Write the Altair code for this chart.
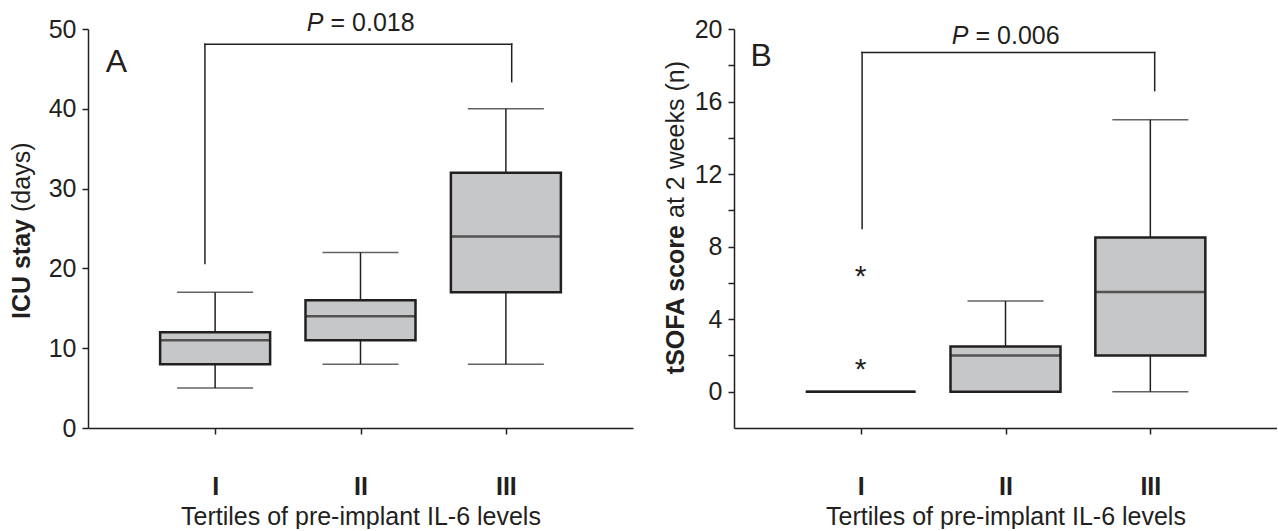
import altair as alt
import pandas as pd

FONT = "Liberation Sans"
INK = "#231f20"
BOX_FILL = "#c6c7c9"

# Tertiles of pre-implant IL-6 and their positions on the x axis
tertiles = ["I", "II", "III"]
tertile_pos = [1, 2, 3]

# ICU stay (days): whisker ends, quartiles, median
icu_low = [5, 8, 8]
icu_q1 = [8, 11, 17]
icu_median = [11, 14, 24]
icu_q3 = [12, 16, 32]
icu_high = [17, 22, 40]

# tSOFA score at 2 weeks
sofa_low = [0, 0, 0]
sofa_q1 = [0, 0, 2]
sofa_median = [0, 2, 5.5]
sofa_q3 = [0, 2.5, 8.5]
sofa_high = [0, 5, 15]

# extreme values in tertile I (tSOFA)
sofa_extreme_pos = [1, 1]
sofa_extreme_value = [1.5, 6.6]

# I vs III comparison brackets: [left x, right x], [left foot, right foot, top]
icu_bracket_x = [0.93, 3.04]
icu_bracket_y = [20.6, 43.4, 48.1]
sofa_bracket_x = [1.01, 3.03]
sofa_bracket_y = [9.0, 16.6, 18.7]

icu_p = "0.018"
sofa_p = "0.006"

X_DOMAIN = [0.16, 3.84]
PLOT_H = 399


def stats_table(low, q1, med, q3, high):
    return pd.DataFrame({"pos": tertile_pos, "tertile": tertiles, "low": low,
                         "q1": q1, "median": med, "q3": q3, "high": high})


def bracket_table(xs, ys):
    xl, xr = xs
    foot_l, foot_r, top = ys
    return pd.DataFrame({"x": [xl, xl, xr], "x2": [xl, xr, xr],
                         "y": [foot_l, top, foot_r], "y2": [top, top, top]})


def panel(stats, width, y_domain, y_values, label_step, bracket, p_value, p_y,
          letter, letter_xy, title_bold, title_rest, title_x, title_split,
          extremes=None):
    x_scale = alt.Scale(domain=X_DOMAIN, nice=False, zero=False)
    y_scale = alt.Scale(domain=y_domain, nice=False, zero=False)

    x_axis = alt.Axis(
        values=tertile_pos,
        labelExpr="['', 'I', 'II', 'III'][datum.value]",
        labelFontWeight="bold", labelPadding=40,
        title="Tertiles of pre-implant IL-6 levels", titlePadding=5,
        titleFontWeight="normal")
    y_axis = alt.Axis(
        values=y_values,
        labelExpr=f"datum.value % {label_step} === 0 ? datum.label : ''",
        labelPadding=6, title="")

    def xq(field):
        return alt.X(f"{field}:Q", scale=x_scale, axis=x_axis)

    def yq(field):
        return alt.Y(f"{field}:Q", scale=y_scale, axis=y_axis)

    base = alt.Chart(stats)
    whisker = base.mark_rule(color=INK, strokeWidth=1.5).encode(
        x=xq("pos"), y=yq("low"), y2="high:Q")
    caps_low = base.mark_tick(color=INK, size=76, thickness=1.5,
                              orient="horizontal").encode(x=xq("pos"), y=yq("low"))
    caps_high = base.mark_tick(color=INK, size=76, thickness=1.5,
                               orient="horizontal").encode(x=xq("pos"), y=yq("high"))
    box = base.mark_bar(size=110, fill=BOX_FILL, stroke=INK, strokeWidth=2.5).encode(
        x=xq("pos"), y=yq("q1"), y2="q3:Q")
    med = base.mark_tick(color=INK, size=109, thickness=2.5,
                         orient="horizontal").encode(x=xq("pos"), y=yq("median"))

    br = alt.Chart(bracket).mark_rule(color=INK, strokeWidth=1.5, strokeCap="square").encode(
        x=xq("x"), x2="x2:Q", y=yq("y"), y2="y2:Q")

    p_df = pd.DataFrame({"x": [2], "y": [p_y]})
    p_italic = alt.Chart(p_df).mark_text(
        text="P", font=FONT, fontSize=25, fontStyle="italic", align="right",
        baseline="alphabetic", dx=-37, color=INK).encode(x=xq("x"), y=yq("y"))
    p_rest = alt.Chart(p_df).mark_text(
        text=f"= {p_value}", font=FONT, fontSize=25, align="left",
        baseline="alphabetic", dx=-30, color=INK).encode(x=xq("x"), y=yq("y"))

    l_df = pd.DataFrame({"x": [letter_xy[0]], "y": [letter_xy[1]]})
    letter_mark = alt.Chart(l_df).mark_text(
        text=letter, font=FONT, fontSize=32, align="left", baseline="alphabetic",
        color=INK).encode(x=xq("x"), y=yq("y"))

    one = pd.DataFrame({"k": [0]})
    t_bold = alt.Chart(one).mark_text(
        text=title_bold, font=FONT, fontSize=25, fontWeight="bold", angle=270,
        align="right", baseline="middle", color=INK).encode(
        x=alt.value(title_x), y=alt.value(title_split))
    t_rest = alt.Chart(one).mark_text(
        text=title_rest, font=FONT, fontSize=25, angle=270,
        align="left", baseline="middle", color=INK).encode(
        x=alt.value(title_x), y=alt.value(title_split - 7))

    layers = [whisker, caps_low, caps_high, box, med, br, p_italic, p_rest,
              letter_mark, t_bold, t_rest]
    if extremes is not None:
        layers.append(alt.Chart(extremes).mark_text(
            text="*", font=FONT, fontSize=30, align="center",
            baseline="alphabetic", dy=14, color=INK).encode(
            x=xq("pos"), y=yq("value")))
    return alt.layer(*layers).properties(width=width, height=PLOT_H)


icu = stats_table(icu_low, icu_q1, icu_median, icu_q3, icu_high)
sofa = stats_table(sofa_low, sofa_q1, sofa_median, sofa_q3, sofa_high)
extremes = pd.DataFrame({"pos": sofa_extreme_pos, "value": sofa_extreme_value})

panel_a = panel(icu, 545, [0, 50], [0, 10, 20, 30, 40, 50], 10,
                bracket_table(icu_bracket_x, icu_bracket_y), icu_p, 49.8,
                "A", (0.248, 44.6), "ICU stay", "(days)", -66, 190)
panel_b = panel(sofa, 543, [-2, 20], list(range(0, 21, 2)), 4,
                bracket_table(sofa_bracket_x, sofa_bracket_y), sofa_p, 19.2,
                "B", (0.24, 17.94), "tSOFA score", "at 2 weeks (n)", -58, 196,
                extremes=extremes)

chart = alt.hconcat(panel_a, panel_b, spacing=30).properties(
    padding={"left": 10, "top": 10, "right": 0, "bottom": 0},
    background="white",
).configure_view(stroke=None).configure_axis(
    domainColor=INK, domainWidth=1.5, tickColor=INK, tickWidth=1.5, tickSize=6,
    labelFont=FONT, labelFontSize=25, labelColor=INK,
    titleFont=FONT, titleFontSize=25, titleColor=INK, grid=False)

chart.save("out.html", embed_options={"renderer": "svg", "actions": False})
